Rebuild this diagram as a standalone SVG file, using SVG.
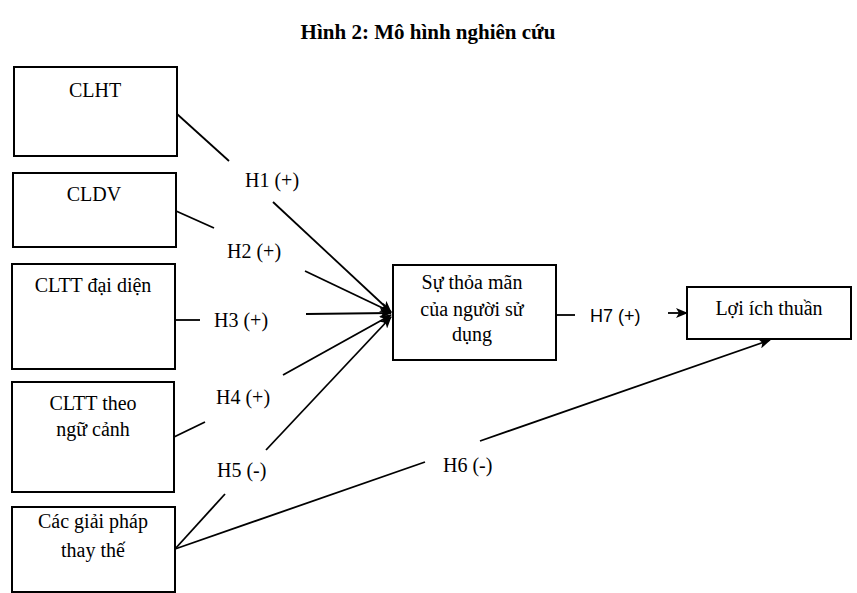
<svg xmlns="http://www.w3.org/2000/svg" width="857" height="593" viewBox="0 0 857 593">
<style>
.box{fill:#fff;stroke:#000;stroke-width:2}
.t{font-family:"Liberation Serif","Times New Roman",serif;font-size:20px;fill:#000;text-anchor:middle}
.lbl{font-family:"Liberation Serif","Times New Roman",serif;font-size:20px;fill:#000}
.ln{stroke:#000;stroke-width:1.8;fill:none}
.title{font-family:"Liberation Serif","Times New Roman",serif;font-size:21px;font-weight:bold;fill:#000;text-anchor:middle}
</style>
<defs>
<marker id="ah" markerUnits="userSpaceOnUse" markerWidth="12" markerHeight="10" refX="11" refY="5" orient="auto">
<path d="M0,0 L12,5 L0,10 L3,5 Z" fill="#000"/>
</marker>
</defs>
<rect width="857" height="593" fill="#fff"/>
<text class="title" x="428" y="39">Hình 2: Mô hình nghiên cứu</text>

<g id="node-clht"><rect class="box" x="14" y="67" width="163" height="89"/><text class="t" x="95" y="97">CLHT</text></g>
<g id="node-cldv"><rect class="box" x="13" y="173" width="163" height="74"/><text class="t" x="94" y="201">CLDV</text></g>
<g id="node-cltt-daidien"><rect class="box" x="12" y="264" width="163" height="105"/><text class="t" x="93" y="292">CLTT đại diện</text></g>
<g id="node-cltt-ngucanh"><rect class="box" x="12" y="382" width="162" height="110"/><text class="t" x="93" y="410">CLTT theo</text><text class="t" x="93" y="436">ngữ cảnh</text></g>
<g id="node-giaiphap"><rect class="box" x="12" y="507" width="163" height="85"/><text class="t" x="93" y="528">Các giải pháp</text><text class="t" x="93" y="557">thay thế</text></g>
<g id="node-thoaman"><rect class="box" x="393" y="265" width="163" height="95"/><text class="t" x="472" y="289">Sự thỏa mãn</text><text class="t" x="472" y="316">của người sử</text><text class="t" x="472" y="341">dụng</text></g>
<g id="node-loiich"><rect class="box" x="687" y="287" width="164" height="52"/><text class="t" x="769" y="315">Lợi ích thuần</text></g>

<g id="connectors">
<line class="ln" x1="177" y1="114" x2="229" y2="161"/>
<line class="ln" x1="273" y1="202" x2="391" y2="312" marker-end="url(#ah)"/>
<line class="ln" x1="176" y1="211" x2="214" y2="228"/>
<line class="ln" x1="305" y1="271" x2="391" y2="312" marker-end="url(#ah)"/>
<line class="ln" x1="175" y1="320" x2="200" y2="320"/>
<line class="ln" x1="306" y1="314" x2="391" y2="313" marker-end="url(#ah)"/>
<line class="ln" x1="174" y1="437" x2="205" y2="422"/>
<line class="ln" x1="283" y1="375" x2="391" y2="315" marker-end="url(#ah)"/>
<line class="ln" x1="175" y1="549" x2="225" y2="494"/>
<line class="ln" x1="266" y1="450" x2="391" y2="317" marker-end="url(#ah)"/>
<line class="ln" x1="175" y1="549" x2="425" y2="462"/>
<line class="ln" x1="480" y1="441" x2="770" y2="340" marker-end="url(#ah)"/>
<line class="ln" x1="556" y1="315" x2="575" y2="315"/>
<line class="ln" x1="668" y1="313" x2="687" y2="313" marker-end="url(#ah)"/>
<text class="lbl" x="245" y="187">H1 (+)</text>
<text class="lbl" x="227" y="258">H2 (+)</text>
<text class="lbl" x="214" y="327">H3 (+)</text>
<text class="lbl" x="216" y="404">H4 (+)</text>
<text class="lbl" x="217" y="477">H5 (-)</text>
<text class="lbl" x="443" y="472">H6 (-)</text>
<text x="590" y="322" style="font-family:'Liberation Sans',Arial,sans-serif;font-size:18px;fill:#000">H7 (+)</text>
</g>
</svg>
